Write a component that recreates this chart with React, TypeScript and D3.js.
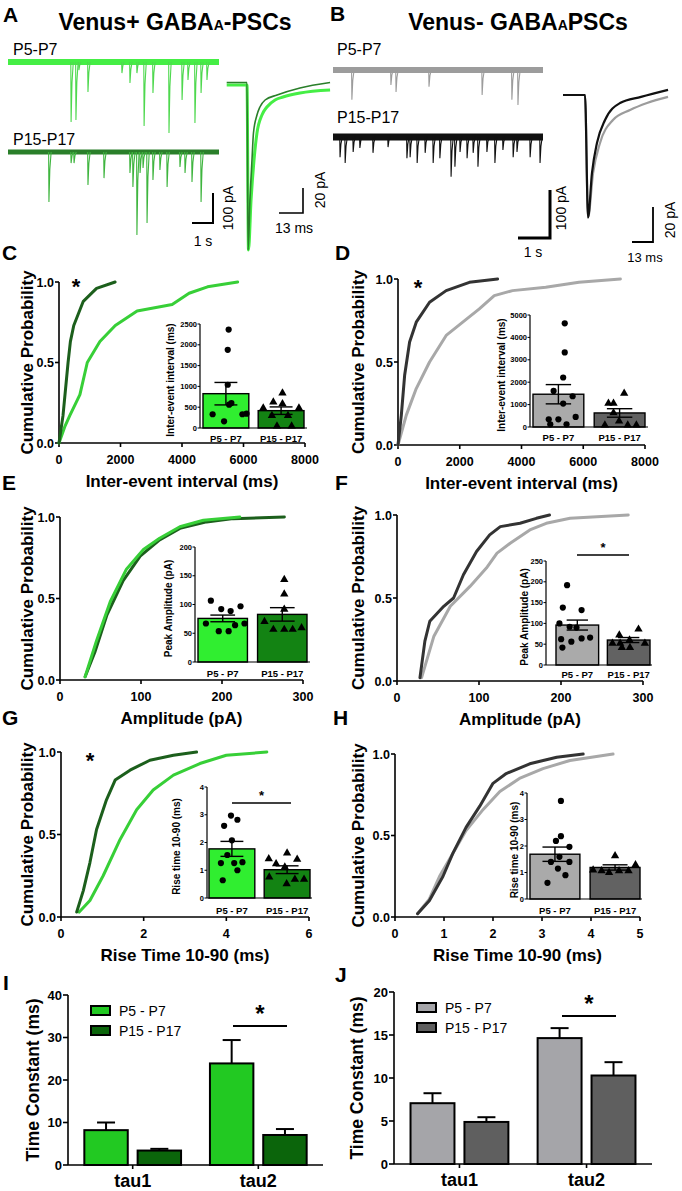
import React from "react";
import * as d3 from "d3";

const FONT = "'Liberation Sans', Arial, Helvetica, sans-serif";

// ---------------- colours ----------------
const LG_TRACE = "#45ee45";
const DG_TRACE = "#2a7f2a";
const DG_SPIKE = "#3fb53f";
const GR_TRACE = "#9c9c9c";
const BK_TRACE = "#111111";
const LG_CURVE = "#37cf37";
const DG_CURVE = "#1c5f1c";
const GR_CURVE = "#a8a8a8";
const BK_CURVE = "#333333";
const LG_INSET = "#30ee30";
const DG_INSET = "#138313";
const GR_INSET = "#aaaaaa";
const BK_INSET = "#626262";
const LG_BAR = "#22c922";
const DG_BAR = "#0b650b";
const GR_BAR = "#a5a5a9";
const BK_BAR = "#5f5f5f";

// ---------------- Panel A/B raw traces: [time (s), event amplitude (pA)] ----------------
const eventsA_P5 = [[2.99,200],[3.22,193],[3.36,27],[3.79,100],[5.4,37],[5.78,70],[6.11,37],[6.45,213],[6.87,103],[7.63,237],[8.25,127],[8.53,60],[8.86,203],[9.15,103],[9.43,60]];
const eventsA_P15 = [[1.94,167],[2.99,37],[3.13,37],[3.79,110],[4.55,87],[5.78,70],[5.92,117],[6.11,277],[6.26,70],[6.4,53],[6.59,237],[6.87,93],[7.2,60],[7.54,117],[8.15,50],[8.39,70],[8.72,100],[9.15,167]];
const eventsB_P5 = [[0.59,62],[1.81,31],[1.97,46],[3.0,35],[4.66,52],[5.59,62],[5.78,73]];
const eventsB_P15 = [[0.22,42],[0.38,54],[0.63,31],[0.84,23],[1.25,33],[1.72,21],[2.31,44],[2.41,42],[2.63,54],[2.88,33],[3.13,54],[3.34,44],[3.69,83],[3.81,62],[3.97,31],[4.19,44],[4.38,33],[4.53,62],[4.81,31],[5.06,54],[5.31,27],[5.63,42],[5.75,31],[6.16,42],[6.47,54]];

// averaged PSCs: [time (ms), current (pA)]
const avgA_P5 = [[-11,0],[0,0],[0.8,-132],[2.2,-92],[3.8,-60],[5.4,-38.4],[8.1,-24],[10.8,-17.6],[15.2,-12],[19.5,-9.6],[28.7,-6.4],[45,-4]];
const avgA_P15 = [[-11,2],[0,2],[0.6,-132],[1.6,-92],[2.7,-60],[3.5,-38.4],[5.4,-24],[7.0,-17.6],[9.8,-12],[16.3,-8],[28.7,-2.4],[45,2]];
const avgB_P5 = [[-13.6,0],[0,0],[1.9,-70],[5,-44.6],[9.3,-27.4],[17.3,-14.3],[27.9,-8.6],[38.4,-4.6],[51.4,-1.1]];
const avgB_P15 = [[-13.6,0],[0,0],[1.9,-70],[4.3,-44.6],[7.4,-27.4],[12.4,-14.3],[21.7,-4.6],[34.7,-1.1],[51.4,2.9]];

// ---------------- cumulative distributions: [x, probability] ----------------
const cdfC_P5 = [[0,0],[185,0.1],[350,0.17],[680,0.3],[920,0.5],[1330,0.63],[1830,0.73],[2540,0.82],[3680,0.86],[4230,0.93],[4830,0.97],[5810,1]];
const cdfC_P15 = [[0,0],[130,0.17],[295,0.5],[370,0.63],[480,0.73],[790,0.88],[1220,0.96],[1825,1]];
const cdfD_P5 = [[0,0],[269,0.18],[591,0.34],[1022,0.5],[1560,0.66],[2097,0.74],[2634,0.82],[3118,0.9],[3710,0.93],[4785,0.95],[5860,0.98],[7204,1]];
const cdfD_P15 = [[0,0],[108,0.18],[215,0.42],[376,0.62],[591,0.74],[1022,0.86],[1560,0.93],[2312,0.98],[3226,1]];
const cdfE_P5 = [[31,0.02],[45,0.24],[62,0.48],[82,0.68],[103,0.8],[123,0.87],[148,0.94],[177,0.98],[222,1]];
const cdfE_P15 = [[31,0.02],[43,0.17],[58,0.4],[78,0.61],[99,0.76],[123,0.86],[148,0.93],[181,0.97],[214,0.99],[277,1]];
const cdfF_P5 = [[30,0.02],[45,0.27],[65,0.45],[89,0.57],[109,0.68],[122,0.77],[138,0.83],[162,0.91],[182,0.95],[211,0.98],[282,1]];
const cdfF_P15 = [[28,0.02],[34,0.24],[40,0.36],[57,0.45],[69,0.5],[81,0.64],[97,0.78],[113,0.88],[126,0.93],[150,0.95],[170,0.98],[186,1]];
const cdfG_P5 = [[0.44,0.03],[0.7,0.1],[1.02,0.25],[1.43,0.47],[1.83,0.65],[2.23,0.77],[2.72,0.86],[3.36,0.93],[4.0,0.98],[4.98,1]];
const cdfG_P15 = [[0.38,0.03],[0.54,0.16],[0.7,0.33],[0.86,0.53],[1.1,0.71],[1.31,0.83],[1.67,0.89],[2.15,0.95],[2.72,0.98],[3.28,1]];
const cdfH_P5 = [[0.46,0.02],[0.7,0.11],[0.91,0.25],[1.18,0.39],[1.45,0.53],[1.8,0.66],[2.14,0.77],[2.54,0.85],[3.02,0.91],[3.57,0.96],[4.45,1]];
const cdfH_P15 = [[0.46,0.02],[0.7,0.1],[0.98,0.25],[1.18,0.39],[1.45,0.55],[1.73,0.68],[2.0,0.82],[2.27,0.88],[2.75,0.94],[3.3,0.98],[3.84,1]];

// ---------------- inset bar graphs (mean, SEM, individual cells) ----------------
const groupLabels = ["P5 - P7", "P15 - P17"];
const insetC_mean = [825, 417]; const insetC_sem = [270, 90];
const insetC_P5 = [2365,1880,1040,560,330,160,330,345,600];
const insetC_P15 = [857,497,497,640,600,320,320,64,64];
const insetD_mean = [1463, 627]; const insetD_sem = [430, 190];
const insetD_P5 = [4627,3328,2209,1612,1373,1045,343,343,448,120,120];
const insetD_P15 = [1090,1090,1537,672,120,300,120,120];
const insetE_mean = [75.8, 82.8]; const insetE_sem = [5.8, 11.7];
const insetE_P5 = [106.7,92,88.5,97,67,67,53.6,53.6,64];
const insetE_P15 = [144.6,119.5,93,71.7,58,58,58,61];
const insetF_mean = [96, 60]; const insetF_sem = [12, 6];
const insetF_P5 = [192,138,132,100,90,92,62,64,66,56,42];
const insetF_P15 = [74,88,54,54,62,44,44,54];
const insetG_mean = [1.77, 1.02]; const insetG_sem = [0.27, 0.14];
const insetG_P5 = [2.97,2.82,2.6,2.08,1.55,1.26,1.29,1.26,1.0,0.64];
const insetG_P15 = [1.65,1.44,1.42,1.26,1.14,0.78,0.7,0.7,0.54];
const insetH_mean = [1.69, 1.19]; const insetH_sem = [0.27, 0.1];
const insetH_P5 = [3.7,2.37,2.19,1.97,1.59,1.4,1.4,1.15,0.9,0.61];
const insetH_P15 = [1.66,1.12,1.09,1.03,1.09,1.09,1.32];

// horizontal scatter of the points (fraction of bar width)
const jitC5 = [0.06,0.04,0.04,0.07,-0.29,-0.04,0.36,0.45,0.12];
const jitC15 = [0.03,-0.39,0.39,-0.17,0.03,-0.2,0.15,-0.09,0.23];
const jitD5 = [0.125,0.125,0.094,-0.094,0.28,0.094,-0.19,0,0.34,-0.16,0.16];
const jitD15 = [-0.22,-0.12,0.09,-0.12,-0.29,-0.01,0.16,0.33];
const jitE5 = [-0.24,-0.03,0.16,0.36,-0.34,0.44,-0.08,0.12,0.25];
const jitE15 = [0.04,0.04,0.04,-0.36,-0.18,0.04,0.21,0.39];
const jitF5 = [-0.24,-0.34,0.1,-0.42,-0.02,-0.18,-0.38,0.1,0.3,-0.14,-0.35];
const jitF15 = [-0.22,0.23,-0.38,-0.2,0.02,0.03,-0.16,0.38];
const jitG5 = [-0.02,0.12,-0.17,0,-0.1,-0.24,0.23,0.05,0.12,-0.2];
const jitG15 = [0,-0.4,0.22,-0.24,-0.05,-0.39,0.17,0.37,-0.01];
const jitH5 = [0.12,0.12,0.02,0.29,0.09,-0.08,0.29,0.06,0.21,-0.15];
const jitH15 = [0,-0.44,-0.27,-0.12,0.08,0.27,0.41];

// ---------------- Panels I / J : decay time constants ----------------
const tauGroups = ["tau1", "tau2"];
const tauI_P5 = [8.2, 23.9]; const tauI_P5_sem = [1.8, 5.5];
const tauI_P15 = [3.4, 7.06]; const tauI_P15_sem = [0.4, 1.4];
const tauJ_P5 = [7.07, 14.64]; const tauJ_P5_sem = [1.16, 1.16];
const tauJ_P15 = [4.89, 10.29]; const tauJ_P15_sem = [0.55, 1.55];

// ============================================================

function Letter({ x, y, t }: any) {
  return <text x={x} y={y} fontSize={21} fontWeight="bold">{t}</text>;
}

function RawTrace({ events, x0, x1, tMax, base, pxPerPA, band, color, spikeColor, bandW }: any) {
  const xs = d3.scaleLinear().domain([0, tMax]).range([x0, x1]);
  const spike = (e: number[]) => {
    const x = xs(e[0]);
    const d = e[1] * pxPerPA;
    const p = d3.path();
    p.moveTo(x - 0.3, base);
    p.lineTo(x, base + d);
    p.lineTo(x + 0.9, base + d * 0.35);
    p.lineTo(x + 2.2, base);
    return p.toString();
  };
  return (
    <g>
      <line x1={x0} x2={x1} y1={base} y2={base} stroke={band} strokeWidth={bandW} />
      {events.map((e: number[], i: number) => (
        <path key={i} d={spike(e)} fill="none" stroke={spikeColor || color} strokeWidth={1.1} />
      ))}
    </g>
  );
}

function AvgTrace({ data, x0, y0, pxPerMs, pxPerPA, color, w }: any) {
  const xs = d3.scaleLinear().domain([0, 1]).range([x0, x0 + pxPerMs]);
  const ys = d3.scaleLinear().domain([0, 1]).range([y0, y0 - pxPerPA]);
  const line = d3.line<number[]>().x((d) => xs(d[0])).y((d) => ys(d[1])).curve(d3.curveMonotoneX);
  return <path d={line(data) || ""} fill="none" stroke={color} strokeWidth={w} strokeLinejoin="round" />;
}

function ScaleBar({ x, y, w, h, lw }: any) {
  return (
    <path d={`M${x - w},${y} L${x},${y} L${x},${y - h}`} fill="none" stroke="#000" strokeWidth={lw} />
  );
}

function CdfPanel({ x0, x1, yb, yt, xMax, xTicks, curves, xTitle, yTitleX, star }: any) {
  const xs = d3.scaleLinear().domain([0, xMax]).range([x0, x1]);
  const ys = d3.scaleLinear().domain([0, 1]).range([yb, yt]);
  const line = d3.line<number[]>().x((d) => xs(d[0])).y((d) => ys(d[1]));
  return (
    <g>
      <line x1={x0} x2={x0} y1={yb} y2={yt} stroke="#000" strokeWidth={1.6} />
      {[0, 0.5, 1].map((v) => (
        <g key={v}>
          <line x1={x0 - 4} x2={x0} y1={ys(v)} y2={ys(v)} stroke="#000" strokeWidth={1.6} />
          <text x={x0 - 5} y={ys(v) + 4.5} textAnchor="end" fontSize={12.5} fontWeight="bold">{v.toFixed(1)}</text>
        </g>
      ))}
      <line x1={x0} x2={x1} y1={yb} y2={yb} stroke="#000" strokeWidth={1.6} />
      {xTicks.map((v: number) => (
        <g key={v}>
          <line x1={xs(v)} x2={xs(v)} y1={yb} y2={yb + 4} stroke="#000" strokeWidth={1.6} />
          <text x={xs(v)} y={yb + 21} textAnchor="middle" fontSize={12.5} fontWeight="bold">{v}</text>
        </g>
      ))}
      <text x={(x0 + x1) / 2} y={yb + 44} textAnchor="middle" fontSize={17} fontWeight="bold">{xTitle}</text>
      <text transform={`translate(${yTitleX},${(yb + yt) / 2}) rotate(-90)`} textAnchor="middle" dominantBaseline="central" fontSize={17} fontWeight="bold">Cumulative Probability</text>
      {curves.map((c: any, i: number) => (
        <path key={i} d={line(c.data) || ""} fill="none" stroke={c.color} strokeWidth={3} strokeLinejoin="round" strokeLinecap="round" />
      ))}
      {star && <text x={star[0]} y={star[1]} textAnchor="middle" fontSize={22} fontWeight="bold">*</text>}
    </g>
  );
}

function Inset({ ax, bx0, bx1, xEnd, y0, yTop, yMax, yStep, means, sems, pts, jits, fills, title, titleX, labelY, sig }: any) {
  const ys = d3.scaleLinear().domain([0, yMax]).range([y0, yTop]);
  const xb = d3.scaleBand<string>().domain(groupLabels).range([bx0, bx1]).paddingInner(0.17);
  const bw = xb.bandwidth();
  const ticks = d3.range(0, yMax + yStep / 2, yStep);
  const tri = d3.symbol().type(d3.symbolTriangle).size(30)() || "";
  return (
    <g>
      {groupLabels.map((g, i) => {
        const bx = xb(g) as number;
        const m = means[i];
        const s = sems[i];
        const cx = bx + bw / 2;
        return (
          <g key={g}>
            <rect x={bx} y={ys(m)} width={bw} height={y0 - ys(m)} fill={fills[i]} stroke="#000" strokeWidth={1.4} />
            {pts[i].map((v: number, k: number) => {
              const px = cx + jits[i][k] * bw;
              return i === 0 ? (
                <circle key={k} cx={px} cy={ys(v)} r={3.1} fill="#000" />
              ) : (
                <path key={k} d={tri} transform={`translate(${px},${ys(v) + 0.8})`} fill="#000" />
              );
            })}
            <line x1={cx} x2={cx} y1={ys(m - s)} y2={ys(m + s)} stroke="#000" strokeWidth={1.4} />
            <line x1={cx - bw * 0.25} x2={cx + bw * 0.25} y1={ys(m + s)} y2={ys(m + s)} stroke="#000" strokeWidth={1.4} />
            <line x1={cx - bw * 0.25} x2={cx + bw * 0.25} y1={ys(m - s)} y2={ys(m - s)} stroke="#000" strokeWidth={1.4} />
            <text x={cx} y={labelY} textAnchor="middle" fontSize={9.5} fontWeight="bold">{g}</text>
          </g>
        );
      })}
      <line x1={ax} x2={ax} y1={y0} y2={yTop} stroke="#000" strokeWidth={1.2} />
      <line x1={ax} x2={xEnd} y1={y0} y2={y0} stroke="#000" strokeWidth={1.2} />
      {ticks.map((v: number) => (
        <g key={v}>
          <line x1={ax - 2.5} x2={ax} y1={ys(v)} y2={ys(v)} stroke="#000" strokeWidth={1} />
          <text x={ax - 3} y={ys(v) + 2.5} textAnchor="end" fontSize={7.5} fontWeight="bold">{v}</text>
        </g>
      ))}
      <text transform={`translate(${titleX},${(y0 + yTop) / 2 + 4}) rotate(-90)`} textAnchor="middle" dominantBaseline="central" fontSize={10} fontWeight="bold">{title}</text>
      {sig && (
        <g>
          <line x1={sig[0]} x2={sig[1]} y1={sig[2]} y2={sig[2]} stroke="#000" strokeWidth={1.3} />
          <text x={(sig[0] + sig[1]) / 2} y={sig[2] - 3} textAnchor="middle" fontSize={13} fontWeight="bold">*</text>
        </g>
      )}
    </g>
  );
}

function TauPanel({ x0, x1, yb, yt, yMax, yStep, p5, p5s, p15, p15s, c5, c15, yTitleX, sig, legX, legY }: any) {
  const ys = d3.scaleLinear().domain([0, yMax]).range([yb, yt]);
  const xg = d3.scaleBand<string>().domain(tauGroups).range([x0, x1]).paddingInner(0.23).paddingOuter(0.13);
  const xi = d3.scaleBand<string>().domain(["a", "b"]).range([0, xg.bandwidth()]).paddingInner(0.185);
  const bw = xi.bandwidth();
  const ticks = d3.range(0, yMax + yStep / 2, yStep);
  const bars: any[] = [];
  tauGroups.forEach((g, i) => {
    bars.push({ x: (xg(g) as number) + (xi("a") as number), v: p5[i], s: p5s[i], c: c5 });
    bars.push({ x: (xg(g) as number) + (xi("b") as number), v: p15[i], s: p15s[i], c: c15 });
  });
  return (
    <g>
      {bars.map((b, i) => (
        <g key={i}>
          <line x1={b.x + bw / 2} x2={b.x + bw / 2} y1={ys(b.v)} y2={ys(b.v + b.s)} stroke="#000" strokeWidth={2} />
          <line x1={b.x + bw / 2 - 9} x2={b.x + bw / 2 + 9} y1={ys(b.v + b.s)} y2={ys(b.v + b.s)} stroke="#000" strokeWidth={2} />
          <rect x={b.x} y={ys(b.v)} width={bw} height={yb - ys(b.v)} fill={b.c} stroke="#000" strokeWidth={2} />
        </g>
      ))}
      <line x1={x0} x2={x0} y1={yb} y2={yt} stroke="#000" strokeWidth={1.6} />
      <line x1={x0} x2={x1} y1={yb} y2={yb} stroke="#000" strokeWidth={1.6} />
      {ticks.map((v: number) => (
        <g key={v}>
          <line x1={x0 - 5} x2={x0} y1={ys(v)} y2={ys(v)} stroke="#000" strokeWidth={1.6} />
          <text x={x0 - 6} y={ys(v) + 4.5} textAnchor="end" fontSize={13} fontWeight="bold">{v}</text>
        </g>
      ))}
      {tauGroups.map((g) => {
        const cx = (xg(g) as number) + xg.bandwidth() / 2;
        return (
          <g key={g}>
            <line x1={cx} x2={cx} y1={yb} y2={yb + 4} stroke="#000" strokeWidth={1.6} />
            <text x={cx} y={yb + 22} textAnchor="middle" fontSize={18} fontWeight="bold">{g}</text>
          </g>
        );
      })}
      <text transform={`translate(${yTitleX},${(yb + yt) / 2}) rotate(-90)`} textAnchor="middle" dominantBaseline="central" fontSize={17.5} fontWeight="bold">Time Constant (ms)</text>
      <line x1={sig[0]} x2={sig[1]} y1={sig[2]} y2={sig[2]} stroke="#000" strokeWidth={2} />
      <text x={(sig[0] + sig[1]) / 2} y={sig[2] - 4} textAnchor="middle" fontSize={24} fontWeight="bold">*</text>
      {[{ c: c5, t: groupLabels[0] }, { c: c15, t: groupLabels[1] }].map((l, i) => (
        <g key={i}>
          <rect x={legX} y={legY + i * 20} width={19} height={9} fill={l.c} stroke="#000" strokeWidth={2} />
          <text x={legX + 28} y={legY + i * 20 + 10} fontSize={14}>{l.t}</text>
        </g>
      ))}
    </g>
  );
}

export default function App() {
  return (
    <svg width={682} height={1191} style={{ position: "absolute", left: 0, top: 0, background: "#fff" }} fontFamily={FONT}>
      <rect x={0} y={0} width={682} height={1191} fill="#fff" />
      {/* ---------------- A ---------------- */}
      <Letter x={3} y={22} t="A" />
      <text x={175} y={30} textAnchor="middle" fontSize={23} fontWeight="bold">
        Venus+ GABA<tspan fontSize={14}>A</tspan>-PSCs
      </text>
      <text x={13} y={55} fontSize={16}>P5-P7</text>
      <RawTrace events={eventsA_P5} x0={8} x1={219} tMax={10} base={62} pxPerPA={0.3} band={LG_TRACE} color={"#4ed84e"} bandW={6} />
      <text x={13} y={145} fontSize={16}>P15-P17</text>
      <RawTrace events={eventsA_P15} x0={8} x1={219} tMax={10} base={152} pxPerPA={0.3} band={DG_TRACE} color={DG_TRACE} spikeColor={DG_SPIKE} bandW={5} />
      <ScaleBar x={213} y={223} w={21} h={30} lw={2} />
      <text x={203} y={246} textAnchor="middle" fontSize={14}>1 s</text>
      <text transform="translate(228,208) rotate(-90)" textAnchor="middle" dominantBaseline="central" fontSize={14}>100 pA</text>
      <AvgTrace data={avgA_P5} x0={247} y0={85} pxPerMs={24 / 13} pxPerPA={25 / 20} color={LG_TRACE} w={3} />
      <AvgTrace data={avgA_P15} x0={247} y0={85} pxPerMs={24 / 13} pxPerPA={25 / 20} color={DG_TRACE} w={1.6} />
      <ScaleBar x={303} y={213} w={24} h={25} lw={1.6} />
      <text x={294} y={233} textAnchor="middle" fontSize={14}>13 ms</text>
      <text transform="translate(320,190) rotate(-90)" textAnchor="middle" dominantBaseline="central" fontSize={14}>20 pA</text>

      {/* ---------------- B ---------------- */}
      <Letter x={330} y={21} t="B" />
      <text x={518} y={30} textAnchor="middle" fontSize={23} fontWeight="bold">
        Venus- GABA<tspan fontSize={14}>A</tspan>PSCs
      </text>
      <text x={337} y={55} fontSize={16}>P5-P7</text>
      <RawTrace events={eventsB_P5} x0={333} x1={543} tMax={210 / 32} base={70} pxPerPA={0.48} band={GR_TRACE} color={GR_TRACE} bandW={6} />
      <text x={337} y={123} fontSize={16}>P15-P17</text>
      <RawTrace events={eventsB_P15} x0={333} x1={543} tMax={210 / 32} base={137} pxPerPA={0.48} band={BK_TRACE} color={BK_TRACE} bandW={7} />
      <ScaleBar x={550} y={238} w={32} h={48} lw={3} />
      <text x={533} y={257} textAnchor="middle" fontSize={14}>1 s</text>
      <text transform="translate(561,208) rotate(-90)" textAnchor="middle" dominantBaseline="central" fontSize={14}>100 pA</text>
      <AvgTrace data={avgB_P5} x0={585} y0={95} pxPerMs={21 / 13} pxPerPA={35 / 20} color={GR_TRACE} w={2.2} />
      <AvgTrace data={avgB_P15} x0={585} y0={95} pxPerMs={21 / 13} pxPerPA={35 / 20} color={BK_TRACE} w={2.2} />
      <ScaleBar x={653} y={242} w={21} h={35} lw={1.8} />
      <text x={645} y={262} textAnchor="middle" fontSize={13}>13 ms</text>
      <text transform="translate(670,220) rotate(-90)" textAnchor="middle" dominantBaseline="central" fontSize={14}>20 pA</text>

      {/* ---------------- C ---------------- */}
      <Letter x={2} y={260} t="C" />
      <CdfPanel x0={59} x1={305} yb={443} yt={282} xMax={8000} xTicks={[0, 2000, 4000, 6000, 8000]}
        curves={[{ data: cdfC_P5, color: LG_CURVE }, { data: cdfC_P15, color: DG_CURVE }]}
        xTitle="Inter-event interval (ms)" yTitleX={27} star={[76, 294]} />
      <Inset ax={200} bx0={203} bx1={304} xEnd={307} y0={428} yTop={324} yMax={2500} yStep={500}
        means={insetC_mean} sems={insetC_sem} pts={[insetC_P5, insetC_P15]} jits={[jitC5, jitC15]}
        fills={[LG_INSET, DG_INSET]} title="Inter-event interval (ms)" titleX={170} labelY={442} />

      {/* ---------------- D ---------------- */}
      <Letter x={335} y={260} t="D" />
      <CdfPanel x0={398} x1={645} yb={445} yt={279} xMax={8000} xTicks={[0, 2000, 4000, 6000, 8000]}
        curves={[{ data: cdfD_P5, color: GR_CURVE }, { data: cdfD_P15, color: BK_CURVE }]}
        xTitle="Inter-event interval (ms)" yTitleX={358} star={[418, 295]} />
      <Inset ax={530} bx0={533} bx1={645} xEnd={648} y0={427} yTop={315} yMax={5000} yStep={1000}
        means={insetD_mean} sems={insetD_sem} pts={[insetD_P5, insetD_P15]} jits={[jitD5, jitD15]}
        fills={[GR_INSET, BK_INSET]} title="Inter-event interval (ms)" titleX={501} labelY={441} />

      {/* ---------------- E ---------------- */}
      <Letter x={2} y={490} t="E" />
      <CdfPanel x0={60} x1={303} yb={680} yt={517} xMax={300} xTicks={[0, 100, 200, 300]}
        curves={[{ data: cdfE_P15, color: DG_CURVE }, { data: cdfE_P5, color: LG_CURVE }]}
        xTitle="Amplitude (pA)" yTitleX={27} />
      <Inset ax={195} bx0={198} bx1={307} xEnd={310} y0={662} yTop={547} yMax={200} yStep={50}
        means={insetE_mean} sems={insetE_sem} pts={[insetE_P5, insetE_P15]} jits={[jitE5, jitE15]}
        fills={[LG_INSET, DG_INSET]} title="Peak Amplitude (pA)" titleX={168} labelY={677} />

      {/* ---------------- F ---------------- */}
      <Letter x={335} y={490} t="F" />
      <CdfPanel x0={397} x1={643} yb={681} yt={515} xMax={300} xTicks={[0, 100, 200, 300]}
        curves={[{ data: cdfF_P5, color: GR_CURVE }, { data: cdfF_P15, color: BK_CURVE }]}
        xTitle="Amplitude (pA)" yTitleX={358} />
      <Inset ax={546} bx0={556} bx1={650} xEnd={652} y0={665} yTop={561} yMax={250} yStep={50}
        means={insetF_mean} sems={insetF_sem} pts={[insetF_P5, insetF_P15]} jits={[jitF5, jitF15]}
        fills={[GR_INSET, BK_INSET]} title="Peak Amplitude (pA)" titleX={524} labelY={678} sig={[577, 629, 555]} />

      {/* ---------------- G ---------------- */}
      <Letter x={2} y={725} t="G" />
      <CdfPanel x0={61} x1={309} yb={917} yt={752} xMax={6} xTicks={[0, 2, 4, 6]}
        curves={[{ data: cdfG_P5, color: LG_CURVE }, { data: cdfG_P15, color: DG_CURVE }]}
        xTitle="Rise Time 10-90 (ms)" yTitleX={27} star={[90, 768]} />
      <Inset ax={207} bx0={209} bx1={310} xEnd={312} y0={898} yTop={787} yMax={4} yStep={1}
        means={insetG_mean} sems={insetG_sem} pts={[insetG_P5, insetG_P15]} jits={[jitG5, jitG15]}
        fills={[LG_INSET, DG_INSET]} title="Rise time 10-90 (ms)" titleX={176} labelY={914} sig={[232, 291, 803]} />

      {/* ---------------- H ---------------- */}
      <Letter x={333} y={725} t="H" />
      <CdfPanel x0={395} x1={640} yb={917} yt={754} xMax={5} xTicks={[0, 1, 2, 3, 4, 5]}
        curves={[{ data: cdfH_P5, color: GR_CURVE }, { data: cdfH_P15, color: BK_CURVE }]}
        xTitle="Rise Time 10-90 (ms)" yTitleX={358} />
      <Inset ax={527} bx0={530} bx1={640} xEnd={642} y0={899} yTop={793} yMax={4} yStep={1}
        means={insetH_mean} sems={insetH_sem} pts={[insetH_P5, insetH_P15]} jits={[jitH5, jitH15]}
        fills={[GR_INSET, BK_INSET]} title="Rise time 10-90 (ms)" titleX={514} labelY={914} />

      {/* ---------------- I ---------------- */}
      <Letter x={3} y={990} t="I" />
      <TauPanel x0={68} x1={323} yb={1165} yt={995} yMax={40} yStep={10}
        p5={tauI_P5} p5s={tauI_P5_sem} p15={tauI_P15} p15s={tauI_P15_sem} c5={LG_BAR} c15={DG_BAR}
        yTitleX={33} sig={[233, 287, 1026]} legX={91} legY={1006} />

      {/* ---------------- J ---------------- */}
      <Letter x={335} y={982} t="J" />
      <TauPanel x0={394} x1={652} yb={1164} yt={992} yMax={20} yStep={5}
        p5={tauJ_P5} p5s={tauJ_P5_sem} p15={tauJ_P15} p15s={tauJ_P15_sem} c5={GR_BAR} c15={BK_BAR}
        yTitleX={357} sig={[562, 616, 1016]} legX={417} legY={1003} />
    </svg>
  );
}
